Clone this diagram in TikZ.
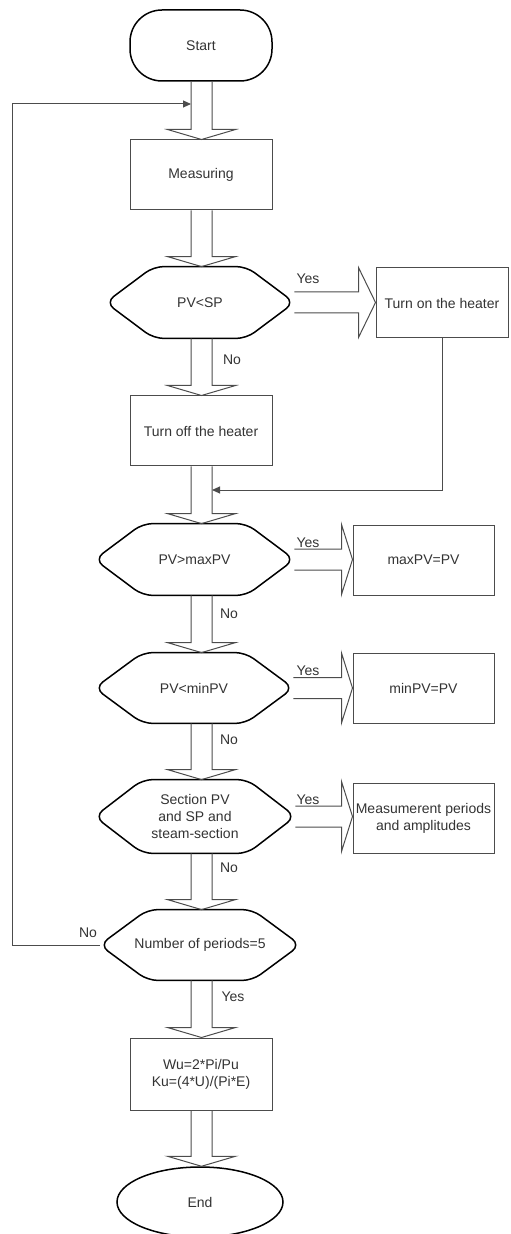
\documentclass[tikz,border=0pt]{standalone}
\usepackage{fontspec}
\setmainfont{Liberation Sans}
\usetikzlibrary{arrows.meta,calc,shapes.geometric}

% hollow block arrows between nodes
\newcommand{\blkdown}[2]{%
  \draw[blk] let \p1=(#1.south -| colx), \p2=(#2.north) in
    (\x1-5.25pt,\y1) -- (\x1-5.25pt,\y2+5pt) -- (\x1-17pt,\y2+5pt) -- (\x1,\y2)
    -- (\x1+17pt,\y2+5pt) -- (\x1+5.25pt,\y2+5pt) -- (\x1+5.25pt,\y1);}
\newcommand{\blkright}[3]{%
  \draw[blk] let \p1=(#1.east), \p2=(#2.west) in
    (\x1,\y1+5.25pt) -- (\x2-#3,\y1+5.25pt) -- (\x2-#3,\y1+17.5pt) -- (\x2,\y1)
    -- (\x2-#3,\y1-17.5pt) -- (\x2-#3,\y1-5.25pt) -- (\x1,\y1-5.25pt);}

\begin{document}
\begin{tikzpicture}[x=0.5pt,y=-0.5pt,
  font=\fontsize{7}{8.4}\selectfont, text=black!80,
  box/.style={draw=black!70,line width=0.5pt,minimum width=71pt,minimum height=35pt,inner sep=1pt,align=center},
  term/.style={draw=black,line width=0.75pt,minimum width=71pt,minimum height=35.5pt,inner sep=1pt},
  hexline/.style={draw=black,line width=0.75pt,rounded corners=5pt},
  hexa/.style={align=center,inner sep=1pt,minimum height=35pt,
    append after command={\pgfextra{\draw[hexline] (\tikzlastnode.west)
      -- ([xshift=24pt]\tikzlastnode.north west) -- ([xshift=-24pt]\tikzlastnode.north east)
      -- (\tikzlastnode.east) -- ([xshift=-24pt]\tikzlastnode.south east)
      -- ([xshift=24pt]\tikzlastnode.south west) -- cycle;}}},
  blk/.style={draw=black!70,line width=0.5pt},
  flow/.style={draw=black!70,line width=0.5pt,-{Triangle[length=4pt,width=3.5pt]}}]
  \useasboundingbox (0,0) rectangle (510,1234);
  \coordinate (colx) at (201.5,0);
  % main column
  \node[term,rounded corners=16pt] (start) at (201,45.5) {Start};
  \node[box] (meas) at (201,175) {Measuring};
  \node[hexa,minimum width=94pt,minimum height=35.5pt] (q1) at (200,302.5) {PV<SP};
  \node[box] (toff) at (201,431) {Turn off the heater};
  \node[hexa,minimum width=99.5pt,minimum height=35.5pt] (q2) at (194.5,559.5) {PV>maxPV};
  \node[hexa,minimum width=99pt] (q3) at (194,688) {PV<minPV};
  \node[hexa,minimum width=100pt,minimum height=36.5pt] (q4) at (195,816.5) {Section PV\\and SP and\\steam-section};
  \node[hexa,minimum width=100pt] (q5) at (200,945) {Number of periods=5};
  \node[box,minimum height=36pt] (calc) at (201,1074) {Wu=2*Pi/Pu\\Ku=(4*U)/(Pi*E)};
  \node[term,ellipse,minimum width=83pt,minimum height=35pt] (end) at (200,1202) {End};
  % right column
  \node[box,minimum width=66pt] (ton) at (442,303) {Turn on the heater};
  \node[box,minimum width=70.5pt] (maxpv) at (423.5,560) {maxPV=PV};
  \node[box,minimum width=70.5pt] (minpv) at (423.5,688) {minPV=PV};
  \node[box,minimum width=70.5pt] (per) at (423.5,818) {Measumerent periods\\and amplitudes};
  % block arrows
  \blkdown{start}{meas}
  \blkdown{meas}{q1}
  \blkdown{q1}{toff}
  \blkdown{toff}{q2}
  \blkdown{q2}{q3}
  \blkdown{q3}{q4}
  \blkdown{q4}{q5}
  \blkdown{q5}{calc}
  \blkdown{calc}{end}
  \blkright{q1}{ton}{8.5pt}
  \blkright{q2}{maxpv}{5.5pt}
  \blkright{q3}{minpv}{5.5pt}
  \blkright{q4}{per}{5.5pt}
  % return lines
  \coordinate (fbin) at (212,490);
  \coordinate (loopin) at (191,104);
  \draw[flow] (ton.south) |- (fbin);
  \draw[flow] (q5.west) -- ++(-87,0) |- (loopin);
  % labels
  \node (y1) at (308,279) {Yes};
  \node (y2) at (308,543) {Yes};
  \node (y3) at (308,671) {Yes};
  \node (y4) at (308,800) {Yes};
  \node (y5) at (233,997) {Yes};
  \node (n1) at (232,360) {No};
  \node (n2) at (229,614) {No};
  \node (n3) at (229,740) {No};
  \node (n4) at (229,868) {No};
  \node (n5) at (88,933) {No};
\end{tikzpicture}
\end{document}
